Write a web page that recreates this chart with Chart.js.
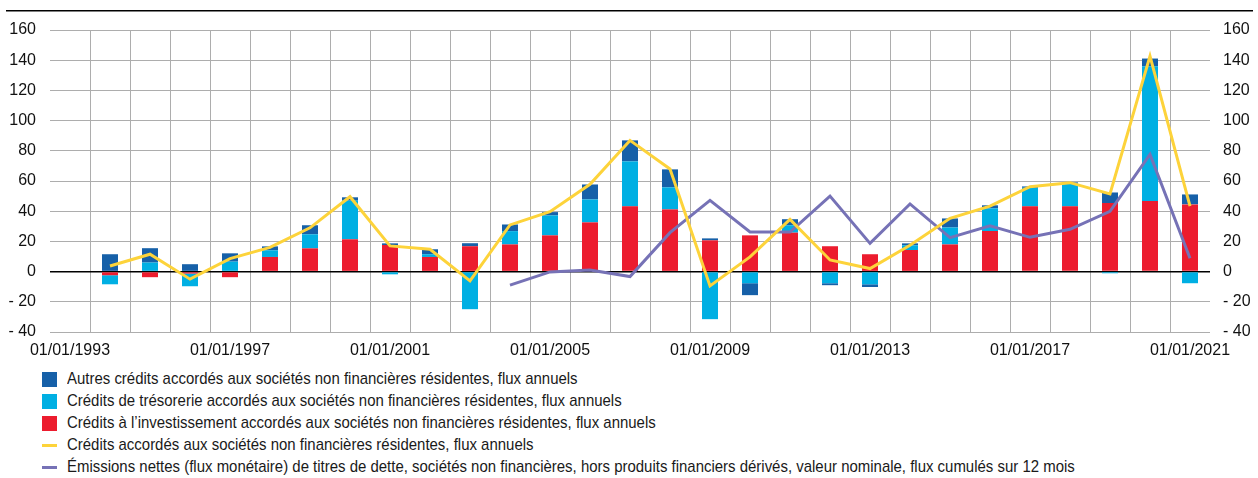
<!DOCTYPE html>
<html>
<head>
<meta charset="utf-8">
<script src="https://cdn.jsdelivr.net/npm/chart.js@4/dist/chart.umd.min.js"></script>
<style>
  html, body { margin: 0; padding: 0; background: #fff; }
  body { width: 1258px; height: 478px; position: relative; overflow: hidden; font-family: "Liberation Sans", Arial, sans-serif; }
  #wrap { position: absolute; left: 0; top: 0; width: 1258px; height: 365px; }
  #legend { position: absolute; left: 42px; top: 368px; }
  .item { height: 22px; display: flex; align-items: center; font-size: 17px; color: #1a1a1a; white-space: nowrap; }
  .sw { width: 15px; height: 15px; margin-right: 10px; flex: none; }
  .ln { width: 15px; height: 3px; margin-right: 10px; flex: none; }
  .tx { display: inline-block; transform: scaleX(0.88); transform-origin: left center; }
</style>
</head>
<body>
<div id="wrap"><canvas id="c" width="1258" height="365"></canvas></div>
<div id="legend"></div>
<script>
const years = ["1993","1994","1995","1996","1997","1998","1999","2000","2001","2002","2003","2004","2005","2006","2007","2008","2009","2010","2011","2012","2013","2014","2015","2016","2017","2018","2019","2020","2021"];
const categories = years.map(y => "01/01/" + y);
const yTicks = [-40, -20, 0, 20, 40, 60, 80, 100, 120, 140, 160];

const autresCredits = [null, 11.5, 9.5, 4.9, 5.5, 2.6, 6, 2.2, 1.1, 3.3, 2, 4.4, 2.2, 9.9, 13.9, 11.9, 1.3, -7.9, 4, -1.3, -1.8, 1.3, 6, 2, 0.9, 0.7, 7, 5.1, 6.6];
const creditsTresorerie = [null, -6, 6, -8.4, 6.6, 4.4, 9.3, 25.6, -1.8, 1.8, -24.9, 8.8, 13.2, 15.2, 29.8, 14.6, -31.5, -7.7, 4.9, -7.7, -8.4, 3.1, 11.2, 15, 12.3, 15.2, -1.1, 89.3, -7.7];
const creditsInvestissement = [null, -2.4, -3.7, -1.3, -3.7, 9.7, 15.4, 21.4, 17.6, 9.7, 16.8, 18, 24, 32.6, 43.2, 41.2, 20.7, 24, 25.8, 16.8, 11.5, 14.3, 18, 26.9, 43.2, 43.2, 45.4, 46.7, 44.5];
const creditsTotal = [null, 3.7, 11.5, -5, 8.6, 16, 29, 49.6, 17, 14.8, -6.2, 30.9, 39.7, 57.8, 86.9, 68, -9.5, 9.7, 34.6, 7.7, 2, 17.4, 35.3, 43.4, 56.2, 58.9, 51.4, 142.7, 43.4];
const emissionsNettes = [null, null, null, null, null, null, null, null, null, null, null, -9, -0.2, 1, -3.3, 25.8, 47.2, 26.2, 26.2, 50, 18.7, 44.8, 22.5, 30.4, 22.7, 28, 39.9, 77.6, 8.8];

const labels = {
  autres: "Autres crédits accordés aux sociétés non financières résidentes, flux annuels",
  treso: "Crédits de trésorerie accordés aux sociétés non financières résidentes, flux annuels",
  invest: "Crédits à l’investissement accordés aux sociétés non financières résidentes, flux annuels",
  total: "Crédits accordés aux sociétés non financières résidentes, flux annuels",
  emis: "Émissions nettes (flux monétaire) de titres de dette, sociétés non financières, hors produits financiers dérivés, valeur nominale, flux cumulés sur 12 mois"
};
const colors = { autres: "#1660a8", treso: "#00afe3", invest: "#ec1c2e", total: "#fdd33a", emis: "#7672b6" };

const FONT = { family: '"Liberation Sans", Arial, sans-serif', size: 16 };
const GRID = "#adadad";

const topLine = {
  id: "topLine",
  beforeDraw(chart) {
    const c = chart.ctx;
    c.save();
    c.fillStyle = "#000";
    c.fillRect(6, 10, 1247, 1.5);
    c.restore();
  }
};

const fmt = v => v < 0 ? "- " + Math.abs(v) : String(v);

new Chart(document.getElementById("c"), {
  type: "bar",
  data: {
    labels: categories,
    datasets: [
      { label: labels.invest, data: creditsInvestissement, backgroundColor: colors.invest, yAxisID: "y", order: 2, barPercentage: 0.4, categoryPercentage: 1 },
      { label: labels.treso, data: creditsTresorerie, backgroundColor: colors.treso, yAxisID: "y", order: 2, barPercentage: 0.4, categoryPercentage: 1 },
      { label: labels.autres, data: autresCredits, backgroundColor: colors.autres, yAxisID: "y", order: 2, barPercentage: 0.4, categoryPercentage: 1 },
      { type: "line", label: labels.total, data: creditsTotal, borderColor: colors.total, backgroundColor: colors.total, borderWidth: 3, pointRadius: 0, tension: 0, yAxisID: "y2", order: 0 },
      { type: "line", label: labels.emis, data: emissionsNettes, borderColor: colors.emis, backgroundColor: colors.emis, borderWidth: 3, pointRadius: 0, tension: 0, yAxisID: "y2", order: 1 }
    ]
  },
  options: {
    responsive: false,
    animation: false,
    devicePixelRatio: 1,
    layout: { padding: { top: 30, left: 0, right: 0, bottom: 0 } },
    plugins: { legend: { display: false }, tooltip: { enabled: false } },
    scales: {
      x: {
        stacked: true,
        offset: true,
        grid: {
          offset: true,
          drawTicks: false,
          lineWidth: 1,
          color: ctx => (ctx.type !== "tick" || ctx.index === 0) ? "rgba(0,0,0,0)" : GRID
        },
        border: { display: false },
        ticks: {
          autoSkip: false,
          maxRotation: 0,
          padding: 9,
          color: "#111",
          font: FONT,
          callback: function (v, i) { return i % 4 === 0 ? categories[i] : ""; }
        },
        afterFit: s => { s.height = 33; }
      },
      y: {
        position: "left",
        stacked: true,
        min: -40, max: 160,
        afterBuildTicks: s => { s.ticks = yTicks.map(v => ({ value: v })); },
        grid: {
          drawTicks: false,
          lineWidth: ctx => ctx.tick && ctx.tick.value === 0 ? 1.5 : 1,
          color: ctx => ctx.tick && ctx.tick.value === 0 ? "#000" : GRID
        },
        border: { display: false },
        ticks: { padding: 14, color: "#111", font: FONT, callback: v => fmt(v) },
        afterFit: s => { s.width = 50; }
      },
      y2: {
        position: "right",
        stacked: false,
        min: -40, max: 160,
        afterBuildTicks: s => { s.ticks = yTicks.map(v => ({ value: v })); },
        grid: { display: false, drawTicks: false },
        border: { display: false },
        ticks: { padding: 13, color: "#111", font: FONT, callback: v => fmt(v) },
        afterFit: s => { s.width = 48; }
      }
    }
  },
  plugins: [topLine]
});

const legendOrder = [
  ["autres", "box"], ["treso", "box"], ["invest", "box"], ["total", "line"], ["emis", "line"]
];
const lg = document.getElementById("legend");
legendOrder.forEach(([k, kind]) => {
  const d = document.createElement("div");
  d.className = "item";
  const s = document.createElement("span");
  s.className = kind === "box" ? "sw" : "ln";
  s.style.background = colors[k];
  d.appendChild(s);
  const t = document.createElement("span");
  t.className = "tx";
  t.textContent = labels[k];
  d.appendChild(t);
  lg.appendChild(d);
});
</script>
</body>
</html>
